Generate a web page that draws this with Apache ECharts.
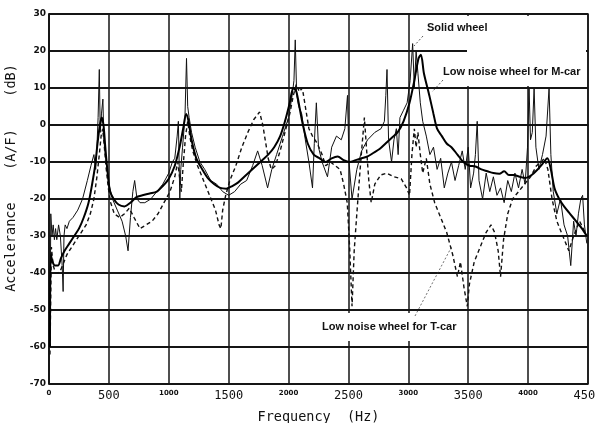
<!DOCTYPE html>
<html>
<head>
<meta charset="utf-8">
<script src="https://cdn.jsdelivr.net/npm/echarts@6/dist/echarts.min.js"></script>
<style>
  html, body { margin: 0; padding: 0; background: #fff; }
  #chart { width: 595px; height: 423px; }
</style>
</head>
<body>
<div id="chart"></div>
<script>
// axis ticks
const xTicks = [0, 500, 1000, 1500, 2000, 2500, 3000, 3500, 4000, 4500];
const yTicks = [-70, -60, -50, -40, -30, -20, -10, 0, 10, 20, 30];

// [frequency Hz, accelerance dB]
const solidWheel = [
  [8,-58],[15,-24],[25,-30],[35,-27],[45,-31],[55,-28],[65,-31],[80,-27],[95,-30],[110,-38],
  [118,-45],[125,-30],[135,-27],[150,-28],[170,-26],[200,-25],[240,-23],[280,-20],[320,-15],[350,-11],
  [375,-8],[390,-12],[400,-6],[410,2],[420,15],[428,-2],[438,3],[450,7],[458,-4],[470,-8],
  [485,-12],[500,-16],[530,-20],[570,-23],[610,-26],[640,-30],[660,-34],[680,-25],[700,-18],[715,-15],
  [735,-20],[760,-21],[800,-21],[850,-20],[900,-18],[950,-16],[1000,-13],[1030,-10],[1050,-9],[1070,-3],
  [1080,1],[1092,-20],[1100,-12],[1115,-6],[1135,2],[1148,18],[1158,5],[1170,2],[1190,-2],[1220,-6],
  [1260,-10],[1300,-12],[1350,-15],[1400,-16],[1450,-18],[1500,-19],[1550,-18],[1600,-16],[1650,-15],[1700,-11],
  [1742,-7],[1780,-11],[1825,-17],[1860,-12],[1900,-8],[1950,-3],[2000,2],[2030,8],[2045,12],[2056,23],
  [2068,8],[2085,5],[2110,3],[2140,-4],[2170,-10],[2200,-17],[2215,-5],[2232,6],[2250,-6],[2280,-10],
  [2325,-14],[2360,-6],[2400,-3],[2440,-4],[2470,-1],[2492,8],[2505,-10],[2530,-20],[2570,-12],[2610,-7],
  [2660,-4],[2720,-2],[2772,-1],[2800,1],[2812,8],[2822,15],[2835,-4],[2860,-10],[2880,-4],[2900,-1],
  [2915,-8],[2930,2],[2960,4],[2990,6],[3015,12],[3036,22],[3050,10],[3065,20],[3080,14],[3100,6],
  [3120,1],[3150,-3],[3180,-8],[3210,-6],[3240,-12],[3270,-9],[3300,-17],[3330,-13],[3360,-10],[3390,-15],
  [3420,-11],[3450,-7],[3475,-12],[3500,-6],[3520,-17],[3545,-13],[3560,-8],[3575,1],[3590,-15],[3620,-20],
  [3650,-13],[3680,-18],[3710,-14],[3740,-19],[3770,-17],[3800,-21],[3830,-15],[3860,-18],[3890,-13],[3920,-17],
  [3950,-12],[3975,-16],[3995,-6],[4008,10],[4020,-4],[4035,-2],[4050,10],[4065,-6],[4090,-12],[4120,-8],
  [4150,-3],[4175,10],[4190,-8],[4210,-18],[4240,-24],[4270,-20],[4300,-27],[4330,-30],[4356,-38],[4380,-26],
  [4400,-30],[4420,-24],[4440,-20],[4455,-19],[4470,-27],[4490,-32]
];

const mCarWheel = [
  [8,-60],[15,-35],[30,-37],[50,-38],[75,-38],[100,-36],[130,-34],[170,-32],[210,-30],[250,-28],
  [290,-25],[330,-21],[360,-16],[385,-11],[405,-5],[425,0],[440,2],[455,0],[470,-6],[490,-13],
  [510,-18],[540,-20],[580,-21.5],[630,-22],[680,-21],[730,-19.5],[780,-19],[840,-18.5],[900,-18],[950,-16.5],
  [1000,-14.5],[1050,-11],[1090,-6],[1120,-1],[1145,3],[1165,1],[1190,-4],[1230,-9],[1280,-12],[1330,-14.5],
  [1380,-16],[1430,-17],[1480,-17.2],[1530,-16.5],[1580,-15.5],[1630,-14],[1680,-12.5],[1730,-11],[1780,-9.5],[1830,-8],
  [1880,-6],[1930,-3],[1970,1],[2010,6],[2040,10],[2065,9],[2090,5],[2120,0],[2160,-5],[2210,-8],
  [2260,-9],[2310,-10],[2360,-9],[2410,-8.5],[2460,-9.5],[2510,-10],[2560,-9.5],[2610,-9],[2660,-8.5],[2710,-7.5],
  [2760,-6.5],[2810,-5],[2860,-3.5],[2910,-2],[2960,1],[3010,6],[3050,12],[3085,18],[3105,19],[3130,14],
  [3175,8],[3210,3],[3240,-1],[3280,-3],[3320,-5],[3360,-6],[3410,-8],[3460,-10],[3510,-11],[3560,-11.2],
  [3610,-12],[3660,-12.5],[3710,-13],[3760,-13.2],[3800,-12.5],[3840,-13.5],[3880,-13.5],[3930,-14],[3980,-14.3],[4030,-13.5],
  [4080,-12],[4120,-10.5],[4160,-9],[4190,-12],[4220,-17],[4260,-20],[4300,-22],[4350,-24],[4400,-26],[4450,-28],
  [4490,-30]
];

const tCarWheel = [
  [8,-62],[20,-33],[35,-38],[55,-40],[75,-40],[100,-39],[125,-37],[150,-35],[190,-33],[230,-31],
  [270,-29],[310,-27],[345,-24],[375,-20],[400,-14],[420,-8],[435,-3],[448,-1],[460,-5],[475,-11],
  [495,-17],[515,-21],[545,-24],[590,-25],[630,-24],[670,-22.5],[710,-25],[760,-28],[810,-27],[860,-26],
  [910,-24],[960,-21],[1010,-18],[1050,-14],[1075,-10],[1090,-14],[1105,-18],[1120,-11],[1140,-3],[1158,1],
  [1175,-3],[1200,-7],[1240,-11],[1290,-15],[1340,-19],[1390,-23],[1420,-27],[1435,-28],[1450,-23],[1475,-19],
  [1510,-15],[1560,-11],[1610,-6],[1660,-2],[1710,1.5],[1758,3.5],[1785,0],[1805,-4],[1830,-9],[1856,-12],
  [1890,-11],[1930,-7],[1970,-2],[2010,3],[2040,8],[2065,11],[2090,9],[2115,10],[2140,5],[2170,-1],
  [2200,-3],[2240,-5],[2280,-8],[2310,-11],[2350,-10],[2390,-11],[2430,-12],[2460,-16],[2490,-21],[2510,-33],
  [2530,-49],[2548,-34],[2570,-24],[2595,-13],[2615,-5],[2633,2],[2650,-6],[2670,-15],[2690,-21],[2720,-16],
  [2770,-13.5],[2820,-13],[2880,-14],[2940,-14.5],[2985,-17],[3010,-19],[3030,-8],[3050,-1],[3065,-6],[3080,-2],
  [3100,-8],[3120,-13],[3150,-9],[3180,-16],[3220,-21],[3270,-25],[3320,-29],[3370,-35],[3410,-41],[3435,-37],
  [3465,-44],[3492,-49],[3510,-43],[3550,-37],[3600,-33],[3650,-29],[3690,-27],[3720,-29],[3750,-34],[3770,-41],
  [3795,-31],[3830,-24],[3870,-20],[3920,-18],[3970,-16],[4020,-14],[4070,-11],[4110,-10],[4135,-9],[4165,-12],
  [4200,-20],[4240,-26],[4290,-30],[4340,-34],[4380,-30],[4430,-26],[4460,-28],[4490,-30]
];

const chart = echarts.init(document.getElementById('chart'));

const gridColor = '#151515';
const noteFont = 'bold 11px "Liberation Sans"';

const option = {
  animation: false,
  backgroundColor: '#fff',
  grid: {
    left: 49, right: 7, top: 14, bottom: 39,
    outerBoundsMode: 'none',
    show: true, borderColor: gridColor, borderWidth: 1.5
  },
  xAxis: {
    type: 'value',
    min: xTicks[0],
    max: xTicks[xTicks.length - 1],
    interval: 500,
    name: 'Frequency  (Hz)',
    nameLocation: 'middle',
    nameGap: 26,
    nameTextStyle: { fontFamily: 'DejaVu Sans Mono', fontSize: 13.5, color: '#111' },
    axisLine: { lineStyle: { color: gridColor, width: 1.5 } },
    axisTick: { show: false },
    axisLabel: {
      margin: 6,
      formatter: v => ((v / 500) % 2 === 1 ? '{b|' + v + '}' : '{s|' + v + '}'),
      rich: {
        b: { fontFamily: 'DejaVu Sans Mono', fontSize: 12, color: '#111' },
        s: { fontFamily: 'DejaVu Sans', fontSize: 7, fontWeight: 'bold', color: '#111' }
      }
    },
    splitLine: { show: true, lineStyle: { color: gridColor, width: 1.5 } }
  },
  yAxis: {
    type: 'value',
    min: yTicks[0],
    max: yTicks[yTicks.length - 1],
    interval: 10,
    name: 'Accelerance    (A/F)    (dB)',
    nameLocation: 'middle',
    nameGap: 26,
    nameRotate: 90,
    nameTextStyle: { fontFamily: 'DejaVu Sans Mono', fontSize: 13.5, color: '#111', padding: [0, 0, 0, 42] },
    axisLine: { lineStyle: { color: gridColor, width: 1.5 } },
    axisTick: { show: false },
    axisLabel: { margin: 3, fontFamily: 'DejaVu Sans', fontSize: 9, fontWeight: 'bold', color: '#111' },
    splitLine: { show: true, lineStyle: { color: gridColor, width: 1.8 } }
  },
  series: [
    {
      name: 'Solid wheel',
      type: 'line',
      data: solidWheel,
      showSymbol: false,
      lineStyle: { color: '#111', width: 1 },
      z: 3
    },
    {
      name: 'Low noise wheel for M-car',
      type: 'line',
      data: mCarWheel,
      showSymbol: false,
      smooth: 0.3,
      lineStyle: { color: '#000', width: 2 },
      z: 4
    },
    {
      name: 'Low noise wheel for T-car',
      type: 'line',
      data: tCarWheel,
      showSymbol: false,
      lineStyle: { color: '#111', width: 1.4, type: [4, 3] },
      z: 2
    }
  ],
  graphic: [
    // white patches behind the notes, as in the original plot
    { type: 'rect', z: 10, shape: { x: 424, y: 16, width: 66, height: 24 }, style: { fill: '#fff' } },
    { type: 'rect', z: 10, shape: { x: 467, y: 16, width: 119, height: 70 }, style: { fill: '#fff' } },
    { type: 'rect', z: 10, shape: { x: 320, y: 313, width: 136, height: 28 }, style: { fill: '#fff' } },
    { type: 'text', z: 11, left: 427, top: 22, style: { text: 'Solid wheel', font: noteFont, fill: '#111' } },
    { type: 'line', z: 11, shape: { x1: 423, y1: 36, x2: 414, y2: 46 }, style: { stroke: '#333', lineWidth: 0.8, lineDash: [2, 2] } },
    { type: 'text', z: 11, left: 443, top: 66, style: { text: 'Low noise wheel for M-car', font: noteFont, fill: '#111' } },
    { type: 'line', z: 11, shape: { x1: 443, y1: 80, x2: 432, y2: 92 }, style: { stroke: '#333', lineWidth: 0.8, lineDash: [2, 2] } },
    { type: 'text', z: 11, left: 322, top: 321, style: { text: 'Low noise wheel for T-car', font: noteFont, fill: '#111' } },
    { type: 'line', z: 11, shape: { x1: 415, y1: 316, x2: 452, y2: 246 }, style: { stroke: '#333', lineWidth: 0.7, lineDash: [2, 2] } }
  ]
};

chart.setOption(option);
</script>
</body>
</html>
